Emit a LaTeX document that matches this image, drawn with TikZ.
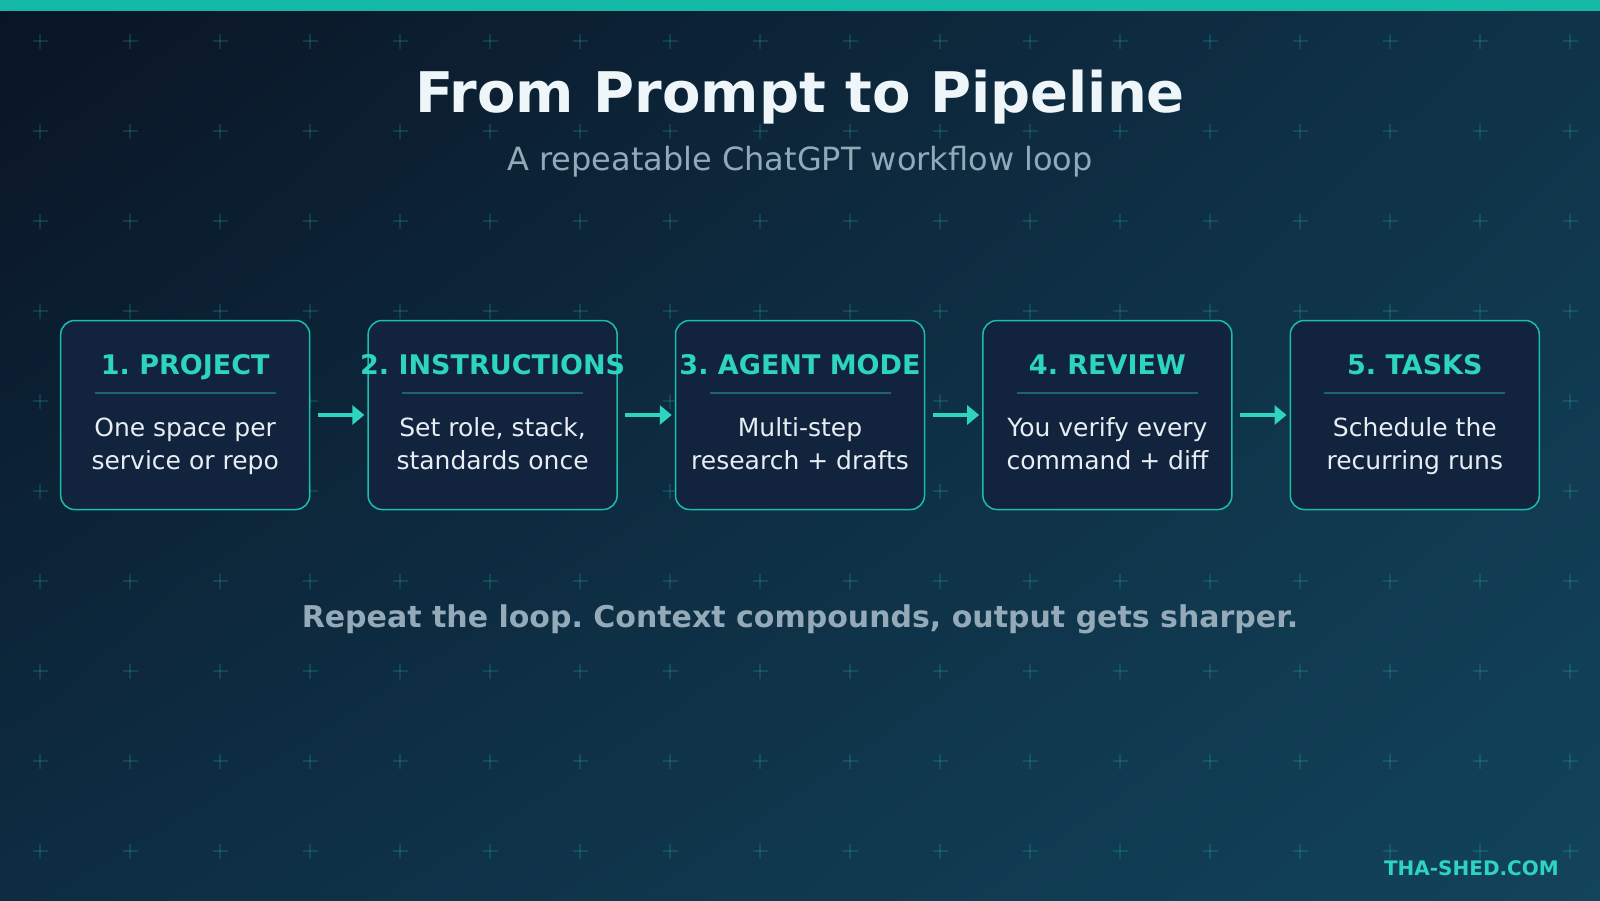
\documentclass[tikz,border=0pt]{standalone}
\usepackage{fontspec}
\setmainfont{DejaVu Sans}
\usetikzlibrary{arrows.meta,shadings}
\definecolor{bgTL}{HTML}{0A1424}
\definecolor{bgTR}{HTML}{0F3349}
\definecolor{bgBL}{HTML}{0D2C42}
\definecolor{bgBR}{HTML}{12445B}
\definecolor{topbar}{HTML}{14B8A6}
\definecolor{titlec}{HTML}{EEF6FA}
\definecolor{subc}{HTML}{8FAAB8}
\definecolor{boxfill}{HTML}{12233D}
\definecolor{boxedge}{HTML}{17BFAA}
\definecolor{accent}{HTML}{2DD4BF}
\definecolor{sepc}{HTML}{1E6470}
\definecolor{bodyc}{HTML}{E6EEF3}
\definecolor{footc}{HTML}{94AAB8}
\frenchspacing
\tikzset{
  stagebox/.style={draw=boxedge, line width=1.5pt, fill=boxfill, rounded corners=14pt,
    minimum width=249pt, minimum height=189pt, inner sep=0pt},
  stagetitle/.style={anchor=base, text=accent, inner sep=0pt, font=\fontsize{27}{32}\selectfont\bfseries},
  stagebody/.style={anchor=base, text=bodyc, inner sep=0pt, font=\fontsize{25}{30}\selectfont},
  sepline/.style={draw=sepc, line width=1.5pt},
  flowarrow/.style={draw=accent, line width=4pt, -{Triangle[length=12pt, width=19pt]}},
  gridplus/.style={draw=accent, draw opacity=0.17, line width=1.4pt}
}
\begin{document}
\begin{tikzpicture}[x=1pt, y=-1pt]
\useasboundingbox (0,0) rectangle (1600,900);
\shade[upper left=bgTL, upper right=bgTR, lower left=bgBL, lower right=bgBR] (0,0) rectangle (1600,900);
\fill[topbar] (0,0) rectangle (1600,11);
\foreach \i in {0,...,17}{
  \foreach \j in {0,...,9}{
    \draw[gridplus] (40+90*\i-7.5, 41+90*\j) -- ++(15,0);
    \draw[gridplus] (40+90*\i, 41+90*\j-7.5) -- ++(0,15);
  }
}
\node[anchor=base, text=titlec, inner sep=0pt, font=\fontsize{56}{66}\selectfont\bfseries] (title) at (800,112) {From Prompt to Pipeline};
\node[anchor=base, text=subc, inner sep=0pt, font=\fontsize{32}{38}\selectfont] (subtitle) at (800,170) {A repeatable ChatGPT workflow loop};
\foreach \k/\t/\la/\lb in {1/1. PROJECT/One space per/service or repo,
  2/2. INSTRUCTIONS/Set role{,} stack{,}/standards once,
  3/3. AGENT MODE/Multi-step/research + drafts,
  4/4. REVIEW/You verify every/command + diff,
  5/5. TASKS/Schedule the/recurring runs}{
  \pgfmathsetmacro{\cx}{800+307.4*(\k-3)}
  \node[stagebox] (b\k) at (\cx,415) {};
  \node[stagetitle] (t\k) at (\cx,374) {\t};
  \draw[sepline] (\cx-90.5,393) -- (\cx+90.5,393);
  \node[stagebody] (la\k) at (\cx,436) {\la};
  \node[stagebody] (lb\k) at (\cx,469) {\lb};
}
\foreach \a/\b in {1/2,2/3,3/4,4/5}{
  \draw[flowarrow] ([xshift=7.5pt]b\a.east) -- ([xshift=-3pt]b\b.west);
}
\node[anchor=base, text=footc, inner sep=0pt, font=\fontsize{30}{36}\selectfont\bfseries] (footer) at (800,627) {Repeat the loop. Context compounds, output gets sharper.};
\node[anchor=base east, text=accent, inner sep=0pt, font=\fontsize{20}{24}\selectfont\bfseries] (brand) at (1559,875) {THA-SHED.COM};
\end{tikzpicture}
\end{document}
